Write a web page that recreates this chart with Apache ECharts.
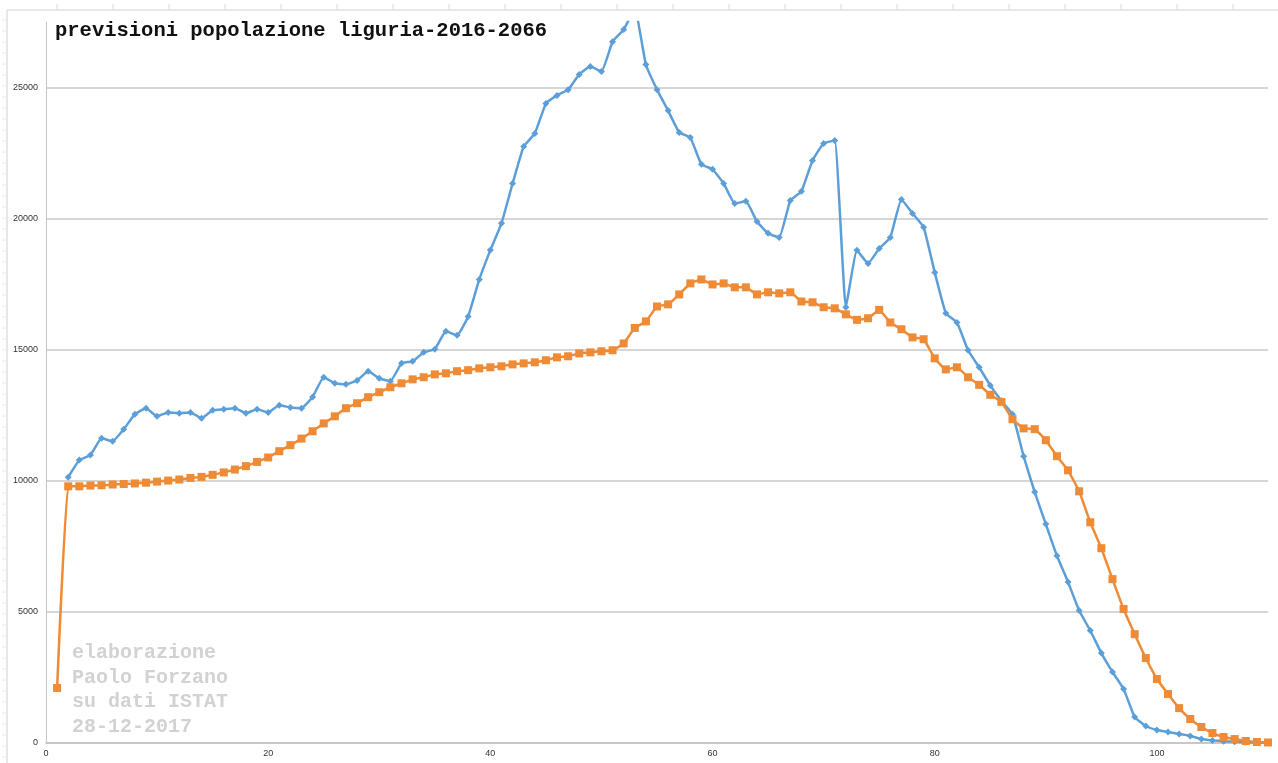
<!DOCTYPE html>
<html>
<head>
<meta charset="utf-8">
<script src="https://cdn.jsdelivr.net/npm/echarts@6/dist/echarts.min.js"></script>
<style>
  html, body { margin: 0; padding: 0; background: #fff; }
  #chart { width: 1278px; height: 763px; }
</style>
</head>
<body>
<div id="chart"></div>
<script>
// età (asse x) e popolazione per età
const orangeStart = 1;
const orangeValues = [
  2100, 9790, 9790, 9820, 9830, 9860, 9880, 9900, 9930, 9970,
  10010, 10050, 10110, 10150, 10230, 10320, 10430, 10560, 10720, 10890,
  11130, 11360, 11610, 11890, 12190, 12460, 12770, 12960, 13190, 13380,
  13570, 13720, 13870, 13950, 14060, 14100, 14180, 14220, 14290, 14330,
  14370, 14440, 14480, 14520, 14600, 14710, 14750, 14860, 14900, 14940,
  14980, 15240, 15830, 16080, 16650, 16730, 17110, 17530, 17680, 17490,
  17530, 17380, 17380, 17110, 17190, 17150, 17190, 16840, 16810, 16620,
  16580, 16350, 16140, 16200, 16520, 16040, 15780, 15470, 15400, 14670,
  14250, 14330, 13950, 13660, 13280, 13010, 12350, 12000, 11970, 11550,
  10940, 10400, 9600, 8420, 7430, 6250, 5110, 4150, 3240, 2440,
  1870, 1330, 915, 610, 380, 230, 150, 76, 38, 20
];

const blueStart = 2;
const blueValues = [
  10140, 10790, 10980, 11620, 11510, 11970, 12540, 12770, 12460,
  12610, 12580, 12610, 12390, 12690, 12730, 12770, 12580, 12730, 12610,
  12880, 12800, 12770, 13200, 13950, 13720, 13680, 13830, 14180, 13910,
  13800, 14480, 14560, 14900, 15020, 15700, 15550, 16270, 17680, 18800,
  19820, 21340, 22750, 23250, 24390, 24700, 24920, 25500, 25800, 25610,
  26750, 27210, 28000, 25880, 24920, 24120, 23290, 23090, 22070, 21880,
  21340, 20580, 20660, 19890, 19440, 19280, 20690, 21040, 22220, 22870,
  22980, 16620, 18790, 18290, 18860, 19280, 20730, 20200, 19670, 17950,
  16390, 16040, 14980, 14330, 13640, 13050, 12540, 10940, 9570, 8350,
  7140, 6140, 5050, 4290, 3430, 2710, 2060, 990, 650, 495,
  420, 345, 270, 150, 100, 70, 45, 25, 12, 5
];

const titleText = 'previsioni popolazione liguria-2016-2066';
const creditLines = ['elaborazione', 'Paolo Forzano', 'su dati ISTAT', '28-12-2017'];

const toPairs = (start, values) => values.map((v, i) => [start + i, v]);

// cornice "righello" attorno al grafico
const frame = [
  { type: 'line', shape: { x1: 7, y1: 10, x2: 1278, y2: 10 }, style: { stroke: '#d2d2d2', lineWidth: 1 }, silent: true },
  { type: 'line', shape: { x1: 7, y1: 10, x2: 7, y2: 763 }, style: { stroke: '#d2d2d2', lineWidth: 1 }, silent: true },
];
for (let x = 57; x < 1278; x += 56) {
  frame.push({ type: 'line', shape: { x1: x, y1: 4, x2: x, y2: 10 }, style: { stroke: '#dadada', lineWidth: 1 }, silent: true });
}
for (let y = 20; y < 763; y += 11) {
  frame.push({ type: 'line', shape: { x1: 2, y1: y, x2: 7, y2: y }, style: { stroke: '#ececec', lineWidth: 1 }, silent: true });
}

const credits = creditLines.map((t, i) => ({
  type: 'text',
  left: 72,
  top: 643 + i * 24.5,
  silent: true,
  z: 10,
  style: {
    text: t,
    font: 'bold 20px "Liberation Mono", monospace',
    fill: '#d2d2d2',
  },
}));

const chart = echarts.init(document.getElementById('chart'), null, { renderer: 'canvas' });

chart.setOption({
  animation: false,
  backgroundColor: '#fff',
  title: {
    text: titleText,
    left: 55,
    top: 20,
    padding: 0,
    textStyle: {
      fontFamily: '"Liberation Mono", monospace',
      fontWeight: 'bold',
      fontSize: 20.5,
      color: '#111',
    },
  },
  graphic: [...frame, ...credits],
  grid: { left: 46, right: 10, top: 22, bottom: 20 },
  xAxis: {
    type: 'value',
    min: 0,
    max: 110,
    interval: 20,
    axisLine: { show: true, lineStyle: { color: '#c4c4c4', width: 1.5 } },
    axisTick: { show: false },
    splitLine: { show: false },
    axisLabel: {
      color: '#333',
      fontSize: 9,
      fontFamily: '"Liberation Sans", Arial, sans-serif',
      margin: 6,
      showMaxLabel: false,
    },
  },
  yAxis: {
    type: 'value',
    min: 0,
    max: 27500,
    interval: 5000,
    axisLine: { show: true, lineStyle: { color: '#c4c4c4', width: 1 } },
    axisTick: { show: false },
    splitLine: { show: true, showMaxLine: false, lineStyle: { color: '#c8c8c8', width: 1.5 } },
    axisLabel: {
      color: '#333',
      fontSize: 9,
      fontFamily: '"Liberation Sans", Arial, sans-serif',
      margin: 8,
      showMaxLabel: false,
      formatter: (v) => String(v),
    },
  },
  series: [
    {
      name: 'blue',
      type: 'line',
      data: toPairs(blueStart, blueValues),
      smooth: 0.12,
      symbol: 'diamond',
      symbolSize: 7,
      lineStyle: { color: '#5c9fd8', width: 2.5 },
      itemStyle: { color: '#5c9fd8' },
      clip: true,
      z: 2,
    },
    {
      name: 'orange',
      type: 'line',
      data: toPairs(orangeStart, orangeValues),
      smooth: 0.12,
      symbol: 'rect',
      symbolSize: 8,
      lineStyle: { color: '#ef8a35', width: 2.5 },
      itemStyle: { color: '#ef8a35' },
      clip: true,
      z: 3,
    },
  ],
});
</script>
</body>
</html>
